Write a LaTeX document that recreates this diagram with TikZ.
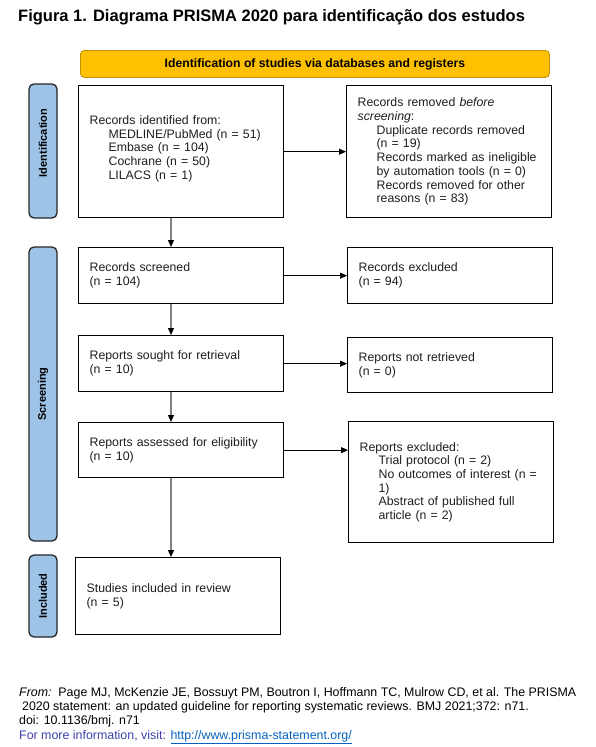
\documentclass[tikz,border=0pt]{standalone}
\usepackage{fontspec}
\setmainfont{Liberation Sans}
\usepackage{tikz}
\usetikzlibrary{arrows.meta}
\definecolor{PrismaGold}{RGB}{255,192,0}
\definecolor{GoldEdge}{RGB}{191,144,0}
\definecolor{SideBlue}{RGB}{157,195,230}
\definecolor{SideEdge}{RGB}{38,38,38}
\definecolor{BoxText}{RGB}{30,30,30}
\definecolor{ArrowGray}{RGB}{128,128,128}
\definecolor{InfoBlue}{RGB}{64,64,176}
\definecolor{LinkBlue}{RGB}{5,99,193}
\newcommand{\indentln}{\hspace*{19pt}}
\tikzset{
  stagebox/.style ={rectangle, draw=black, line width=1.3pt, fill=white, text=BoxText,
                    align=left, anchor=north west, inner xsep=11pt, inner ysep=4pt,
                    minimum width=205pt, text width=183pt,
                    font=\fontsize{12.3}{13.7}\selectfont},
  sidebox/.style  ={rectangle, rounded corners=5pt, draw=SideEdge, line width=1.3pt,
                    fill=SideBlue, text=black, rotate=90, minimum height=28pt,
                    inner sep=0pt, font=\fontsize{11}{13}\selectfont\bfseries},
  headbox/.style  ={rectangle, rounded corners=4pt, draw=GoldEdge, line width=.8pt,
                    fill=PrismaGold, text=black, anchor=north west, minimum width=469pt,
                    minimum height=27pt, font=\fontsize{12.2}{14}\selectfont\bfseries},
  arr/.style      ={-{Triangle[length=7pt,width=6pt]}, draw=black, line width=.8pt},
  arrgray/.style  ={-{Triangle[length=7pt,width=6pt,color=black]}, draw=ArrowGray, line width=1.2pt},
}
\begin{document}
\begin{tikzpicture}[x=1pt,y=-1pt]
  \useasboundingbox[fill=white] (0,0) rectangle (595,747);

  \node[anchor=base west,inner sep=0pt,font=\fontsize{16.5}{19}\selectfont\bfseries] (title) at (18,21)
    {Figura 1. Diagrama PRISMA 2020 para identificação dos estudos};
  \node[headbox] (head) at (80,50) {Identification of studies via databases and registers};

  % phase bars
  \node[sidebox,minimum width=134pt] (idlab)  at (43,151) {\hspace*{16pt}Identification};
  \node[sidebox,minimum width=294pt] (scrlab) at (43,394) {Screening};
  \node[sidebox,minimum width=82pt]  (inclab) at (43,596) {Included};

  % left column
  \node[stagebox,minimum height=132pt] (recid) at (78,85)
    {Records identified from:\\ \indentln MEDLINE/PubMed (n = 51)\\ \indentln Embase (n = 104)\\
     \indentln Cochrane (n = 50)\\ \indentln LILACS (n = 1)\par\vspace{6pt}};
  \node[stagebox,minimum height=56pt] (screened) at (78,247) {Records screened\\ (n = 104)};
  \node[stagebox,minimum height=56pt] (sought)   at (78,335) {Reports sought for retrieval\\ (n = 10)};
  \node[stagebox,minimum height=55pt] (assessed) at (78,422) {Reports assessed for eligibility\\ (n = 10)};
  \node[stagebox,minimum height=77pt] (incl)     at (75,557) {Studies included in review\\ (n = 5)};

  % right column
  \node[stagebox,minimum height=132pt] (removed) at (346,85)
    {Records removed \textit{before}\\ \textit{screening}:\\ \indentln Duplicate records removed\\
     \indentln (n = 19)\\ \indentln Records marked as ineligible\\ \indentln by automation tools (n = 0)\\
     \indentln Records removed for other\\ \indentln reasons (n = 83)};
  \node[stagebox,minimum height=56pt]  (excluded) at (347,247) {Records excluded\\ (n = 94)};
  \node[stagebox,minimum height=55pt]  (notret)   at (347,337) {Reports not retrieved\\ (n = 0)};
  \node[stagebox,minimum height=121pt] (repexcl)  at (348,421)
    {Reports excluded:\\ \indentln Trial protocol (n = 2)\\ \indentln No outcomes of interest (n =\\
     \indentln 1)\\ \indentln Abstract of published full\\ \indentln article (n = 2)};

  \coordinate (spine) at (171,0);
  \foreach \a/\b in {recid/screened,screened/sought,sought/assessed,assessed/incl}
    {\draw[arrgray] (\a.south -| spine) -- (\b.north -| spine);}
  \foreach \a/\b in {recid/removed,screened/excluded,sought/notret,assessed/repexcl}
    {\draw[arr] (\a.east) -- (\a.east -| \b.west);}

  \node[anchor=north west,inner sep=0pt,align=left,font=\fontsize{12.4}{14.3}\selectfont] (source) at (19,687)
    {\textit{From:}\ \ Page MJ, McKenzie JE, Bossuyt PM, Boutron I, Hoffmann TC, Mulrow CD, et al. The PRISMA\\
     \hspace*{3pt}2020 statement: an updated guideline for reporting systematic reviews. BMJ 2021;372: n71.\\
     doi: 10.1136/bmj. n71\\
     \textcolor{InfoBlue}{For more information, visit: }\textcolor{LinkBlue}{\underline{http://www.prisma-statement.org/}}};
\end{tikzpicture}
\end{document}
